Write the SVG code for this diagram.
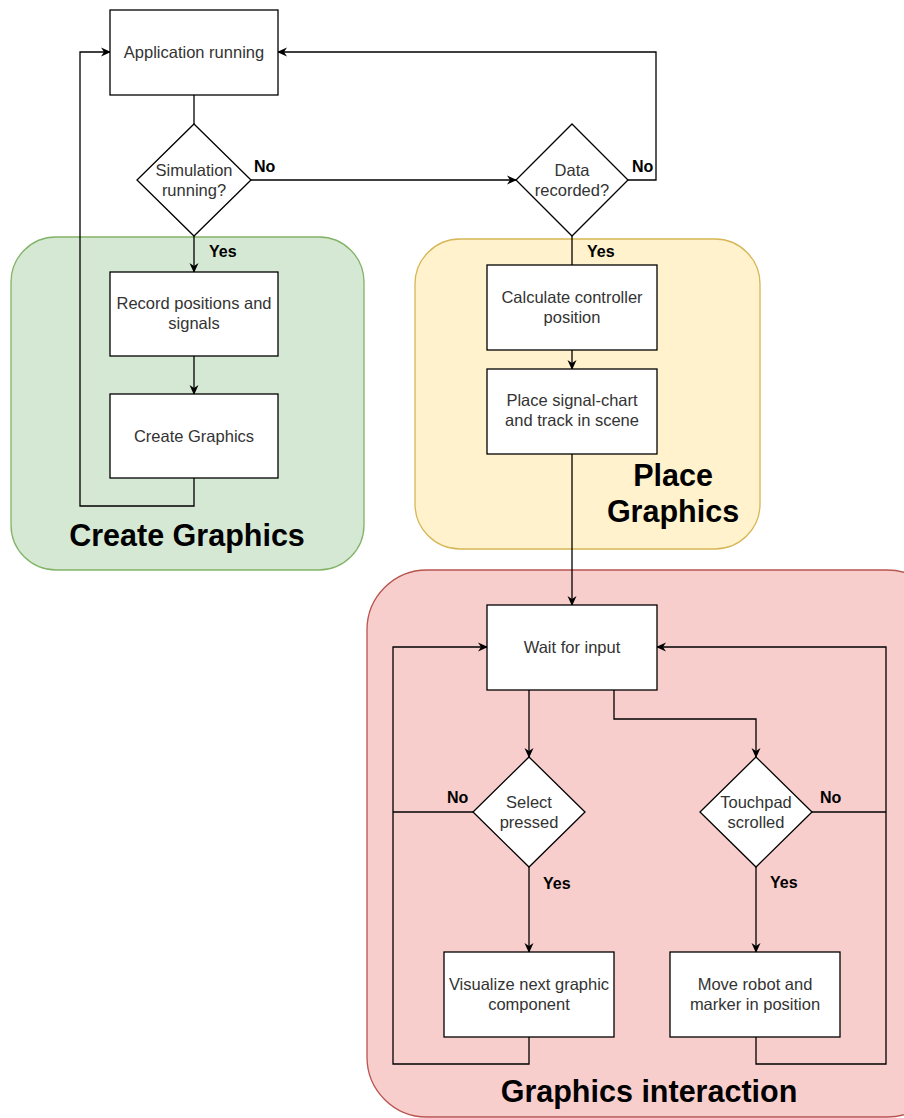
<svg xmlns="http://www.w3.org/2000/svg" width="904" height="1118" viewBox="0 0 904 1118">
<defs>
<style>
.box{fill:#ffffff;stroke:#000000;stroke-width:1.3}
.dia{fill:#ffffff;stroke:#000000;stroke-width:1.3}
.t{font-family:"Liberation Sans",Arial,sans-serif;font-size:16.5px;fill:#333333;text-anchor:middle}
.lb{font-family:"Liberation Sans",Arial,sans-serif;font-size:16px;font-weight:bold;fill:#000000}
.title{font-family:"Liberation Sans",Arial,sans-serif;font-size:30.5px;font-weight:bold;fill:#000000;text-anchor:middle}
.ln{fill:none;stroke:#000000;stroke-width:1.3}
</style>
<marker id="arr" viewBox="0 0 10 10" refX="9" refY="5" markerWidth="10" markerHeight="10" markerUnits="userSpaceOnUse" orient="auto">
<path d="M0,0.5 L10,5 L0,9.5 L3,5 Z" fill="#000000"/>
</marker>
</defs>
<rect width="904" height="1118" fill="#ffffff"/>

<g id="container-create">
<rect x="11" y="237" width="353" height="333" rx="45" fill="#d5e8d4" stroke="#82b366" stroke-width="1.3"/>
<text class="title" x="187" y="546">Create Graphics</text>
</g>
<g id="container-place">
<rect x="415" y="239" width="345" height="310" rx="45" fill="#fff2cc" stroke="#d6b656" stroke-width="1.3"/>
<text class="title" x="673" y="486">Place</text>
<text class="title" x="673" y="522">Graphics</text>
</g>
<g id="container-interaction">
<rect x="367" y="570" width="580" height="547" rx="60" fill="#f8cecc" stroke="#b85450" stroke-width="1.3"/>
<text class="title" x="649" y="1102">Graphics interaction</text>
</g>

<g id="connectors">
<path class="ln" d="M194,95 L194,124"/>
<path class="ln" d="M251,180 L516,180" marker-end="url(#arr)"/>
<path class="ln" d="M628,180 L656,180 L656,52 L278,52" marker-end="url(#arr)"/>
<path class="ln" d="M194,478 L194,506 L80,506 L80,52 L110,52" marker-end="url(#arr)"/>
<path class="ln" d="M194,236 L194,272" marker-end="url(#arr)"/>
<path class="ln" d="M194,356 L194,394" marker-end="url(#arr)"/>
<path class="ln" d="M572,236 L572,265"/>
<path class="ln" d="M572,350 L572,369" marker-end="url(#arr)"/>
<path class="ln" d="M572,454 L572,605" marker-end="url(#arr)"/>
<path class="ln" d="M529,690 L529,757" marker-end="url(#arr)"/>
<path class="ln" d="M614,690 L614,719 L756,719 L756,757" marker-end="url(#arr)"/>
<path class="ln" d="M473,812 L393,812"/>
<path class="ln" d="M529,1037 L529,1064 L393,1064 L393,647 L487,647" marker-end="url(#arr)"/>
<path class="ln" d="M812,812 L886,812"/>
<path class="ln" d="M756,1037 L756,1064 L886,1064 L886,647 L657,647" marker-end="url(#arr)"/>
<path class="ln" d="M529,867 L529,952" marker-end="url(#arr)"/>
<path class="ln" d="M756,867 L756,952" marker-end="url(#arr)"/>
<text class="lb" x="254" y="172">No</text>
<text class="lb" x="632" y="172">No</text>
<text class="lb" x="209" y="257">Yes</text>
<text class="lb" x="587" y="257">Yes</text>
<text class="lb" x="447" y="803">No</text>
<text class="lb" x="820" y="803">No</text>
<text class="lb" x="543" y="889">Yes</text>
<text class="lb" x="770" y="888">Yes</text>
</g>

<g id="n-app">
<rect class="box" x="110" y="10" width="168" height="85"/>
<text class="t" x="194" y="58">Application running</text>
</g>
<g id="n-sim">
<path class="dia" d="M194,124 L251,180 L194,236 L137,180 Z"/>
<text class="t" x="194" y="176">Simulation</text>
<text class="t" x="194" y="196">running?</text>
</g>
<g id="n-data">
<path class="dia" d="M572,124 L628,180 L572,236 L516,180 Z"/>
<text class="t" x="572" y="176">Data</text>
<text class="t" x="572" y="196">recorded?</text>
</g>
<g id="n-record">
<rect class="box" x="110" y="272" width="168" height="84"/>
<text class="t" x="194" y="309">Record positions and</text>
<text class="t" x="194" y="329">signals</text>
</g>
<g id="n-create">
<rect class="box" x="110" y="394" width="168" height="84"/>
<text class="t" x="194" y="442">Create Graphics</text>
</g>
<g id="n-calc">
<rect class="box" x="487" y="265" width="170" height="85"/>
<text class="t" x="572" y="303">Calculate controller</text>
<text class="t" x="572" y="323">position</text>
</g>
<g id="n-place">
<rect class="box" x="487" y="369" width="170" height="85"/>
<text class="t" x="572" y="406">Place signal-chart</text>
<text class="t" x="572" y="426">and track in scene</text>
</g>
<g id="n-wait">
<rect class="box" x="487" y="605" width="170" height="85"/>
<text class="t" x="572" y="653">Wait for input</text>
</g>
<g id="n-select">
<path class="dia" d="M529,757 L585,812 L529,867 L473,812 Z"/>
<text class="t" x="529" y="808">Select</text>
<text class="t" x="529" y="828">pressed</text>
</g>
<g id="n-touch">
<path class="dia" d="M756,757 L812,812 L756,867 L700,812 Z"/>
<text class="t" x="756" y="808">Touchpad</text>
<text class="t" x="756" y="828">scrolled</text>
</g>
<g id="n-visualize">
<rect class="box" x="444" y="952" width="170" height="85"/>
<text class="t" x="529" y="990">Visualize next graphic</text>
<text class="t" x="529" y="1010">component</text>
</g>
<g id="n-move">
<rect class="box" x="670" y="952" width="170" height="85"/>
<text class="t" x="755" y="990">Move robot and</text>
<text class="t" x="755" y="1010">marker in position</text>
</g>
</svg>
